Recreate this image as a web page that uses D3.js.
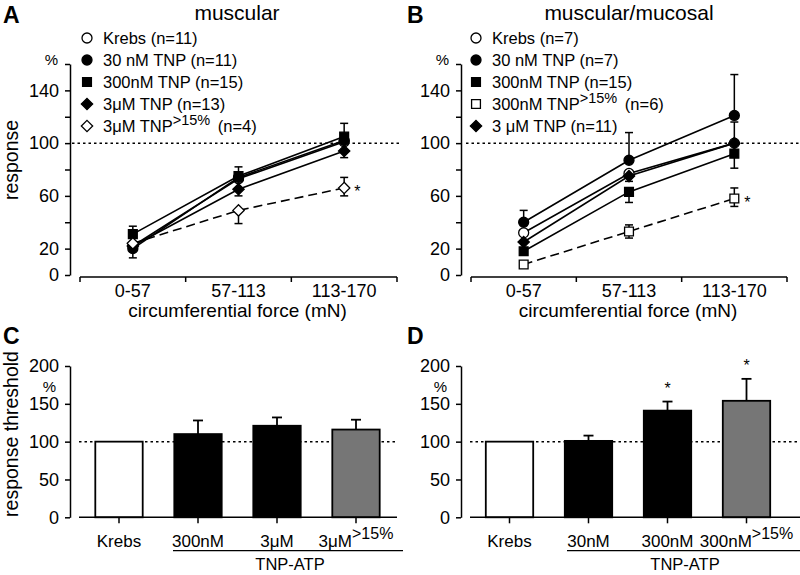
<!DOCTYPE html>
<html><head><meta charset="utf-8">
<script src="https://cdn.jsdelivr.net/npm/d3@7"></script>
<style>
body{margin:0;background:#fff}
svg{display:block}
text{font-family:"Liberation Sans",Arial,Helvetica,sans-serif;fill:#000}
</style>
</head><body>
<svg id="chart" width="800" height="575"></svg>
<script>
// ---------- DATA ----------
const forceCats = ["0-57", "57-113", "113-170"];
const yTicksLine = [0, 20, 40, 60, 80, 100, 120, 140, 160];
const yTickLabelsLine = [0, 20, 60, 100, 140];

// Panel A (muscular)
const aLegend = ["Krebs (n=11)", "30 nM TNP (n=11)", "300nM TNP (n=15)", "3\u03bcM TNP (n=13)", "3\u03bcM TNP"];
const aLegendSup = ["", "", "", "", ">15%"];
const aLegendTail = ["", "", "", "", "(n=4)"];
const aSymbols = ["circle", "circle", "square", "diamond", "diamond"];
const aFilled = [false, true, true, true, false];
const aDashed = [false, false, false, false, true];
const aValues = [[22, 73, 101], [20, 74, 102], [31, 75, 105], [22, 65, 94], [24, 49, 66]];
const aErrUp = [[null, null, null], [null, null, null], [37, 82, 115], [null, null, null], [null, null, 74]];
const aErrDown = [[null, null, null], [13, null, null], [null, null, null], [null, 60, 89], [null, 39, 60]];
const aSig = [false, false, false, false, true];

// Panel B (muscular/mucosal)
const bLegend = ["Krebs (n=7)", "30 nM TNP (n=7)", "300nM TNP (n=15)", "300nM TNP", "3 \u03bcM TNP (n=11)"];
const bLegendSup = ["", "", "", ">15%", ""];
const bLegendTail = ["", "", "", "(n=6)", ""];
const bSymbols = ["circle", "circle", "square", "square", "diamond"];
const bFilled = [false, true, true, false, true];
const bDashed = [false, false, false, true, false];
const bValues = [[32, 77, 100], [40, 87, 121], [18, 63, 92], [8, 33, 58], [25, 75, 100]];
const bErrUp = [[null, null, null], [49, 108, 152], [null, null, null], [null, 38, 66], [null, null, 116]];
const bErrDown = [[null, null, null], [null, null, null], [null, 55, 81], [null, 28, 52], [null, 71, null]];
const bSig = [false, false, false, true, false];

// Panel C (bars)
const barTicks = [0, 50, 100, 150, 200];
const cCats = ["Krebs", "300nM", "3\u03bcM", "3\u03bcM"];
const cSup = ["", "", "", ">15%"];
const cValues = [100, 110, 121, 116];
const cErrTop = [null, 128, 132, 129];
const cFill = ["white", "black", "black", "gray"];
const cSig = [false, false, false, false];

// Panel D (bars)
const dCats = ["Krebs", "30nM", "300nM", "300nM"];
const dSup = ["", "", "", ">15%"];
const dValues = [100, 101, 141, 154];
const dErrTop = [null, 108, 153, 183];
const dFill = ["white", "black", "black", "gray"];
const dSig = [false, false, true, true];

// ---------- DRAW ----------
const svg = d3.select("#chart");
const colors = {white: "#ffffff", black: "#000000", gray: "#767676"};

function markerPath(type) {
  if (type === "circle") return d3.symbol(d3.symbolCircle, Math.PI * 25)();
  if (type === "square") return d3.symbol(d3.symbolSquare, 78)();
  const diamond = {draw(ctx, size) { const r = Math.sqrt(size / 2); ctx.moveTo(0, -r); ctx.lineTo(r, 0); ctx.lineTo(0, r); ctx.lineTo(-r, 0); ctx.closePath(); }};
  return d3.symbol(diamond, 64)();
}

function addText(g, x, y, base, sup, tail, opts) {
  const t = g.append("text").attr("x", x).attr("y", y)
    .attr("font-size", opts.size).attr("text-anchor", opts.anchor || "start");
  t.append("tspan").text(base);
  if (sup) {
    t.append("tspan").attr("dy", -opts.supShift).attr("font-size", opts.supSize).text(sup);
    if (tail) t.append("tspan").attr("dy", opts.supShift).attr("dx", 3).attr("font-size", opts.size).text(" " + tail);
  } else if (tail) {
    t.append("tspan").text(" " + tail);
  }
  return t;
}

function linePanel(cfg) {
  const g = svg.append("g");
  const y = d3.scaleLinear().domain([0, 160]).range([275, 64]);
  const x = d3.scaleBand().domain(forceCats).range([cfg.x0, cfg.x1]);
  const cx = c => x(c) + x.bandwidth() / 2;

  // y axis
  const ya = g.append("g").attr("transform", `translate(${cfg.yAxisX},0)`)
    .call(d3.axisLeft(y).tickValues(yTicksLine).tickSize(5).tickSizeOuter(0).tickPadding(6)
      .tickFormat(d => yTickLabelsLine.includes(d) ? d : ""));
  ya.selectAll("text").attr("font-size", 18).attr("font-family", "Liberation Sans, Arial, sans-serif");
  ya.selectAll("path,line").attr("stroke", "#000").attr("stroke-width", 1.5);
  g.append("text").attr("x", cfg.yAxisX - 12).attr("y", 65).attr("text-anchor", "end").attr("font-size", 15).text("%");

  // x axis (offset, ticks at category boundaries)
  const axY = y(0) + 2;
  g.append("line").attr("x1", cfg.x0).attr("x2", cfg.x1).attr("y1", axY).attr("y2", axY)
    .attr("stroke", "#000").attr("stroke-width", 1.5);
  const bounds = forceCats.map(c => x(c)).concat([cfg.x1]);
  g.selectAll(".bt").data(bounds).join("line").attr("x1", d => d).attr("x2", d => d)
    .attr("y1", axY).attr("y2", axY + 5).attr("stroke", "#000").attr("stroke-width", 1.5);
  g.selectAll(".xl").data(forceCats).join("text").attr("x", d => cx(d)).attr("y", 297)
    .attr("text-anchor", "middle").attr("font-size", 18).text(d => d);
  g.append("text").attr("x", (cfg.x0 + cfg.x1) / 2 - 1).attr("y", 317).attr("text-anchor", "middle")
    .attr("font-size", 19).text("circumferential force (mN)");

  // reference line at 100
  g.append("line").attr("x1", cfg.refX0).attr("x2", cfg.refX1).attr("y1", y(100)).attr("y2", y(100))
    .attr("stroke", "#000").attr("stroke-width", 1.5).attr("stroke-dasharray", "2.5,3");

  // lines
  const line = d3.line().x((d, i) => cx(forceCats[i])).y(d => y(d));
  cfg.values.forEach((vals, s) => {
    g.append("path").attr("d", line(vals)).attr("fill", "none").attr("stroke", "#000")
      .attr("stroke-width", 1.6).attr("stroke-dasharray", cfg.dashed[s] ? "9,5" : null);
  });
  // error bars
  cfg.values.forEach((vals, s) => {
    vals.forEach((v, i) => {
      [cfg.errUp[s][i], cfg.errDown[s][i]].forEach(e => {
        if (e == null) return;
        const px = cx(forceCats[i]);
        g.append("line").attr("x1", px).attr("x2", px).attr("y1", y(v)).attr("y2", y(e))
          .attr("stroke", "#000").attr("stroke-width", 1.5);
        g.append("line").attr("x1", px - 4).attr("x2", px + 4).attr("y1", y(e)).attr("y2", y(e))
          .attr("stroke", "#000").attr("stroke-width", 1.5);
      });
    });
  });
  // markers
  cfg.values.forEach((vals, s) => {
    vals.forEach((v, i) => {
      g.append("path").attr("d", markerPath(cfg.symbols[s]))
        .attr("transform", `translate(${cx(forceCats[i])},${y(v)})`)
        .attr("fill", cfg.filled[s] ? "#000" : "#fff").attr("stroke", "#000").attr("stroke-width", 1.3);
    });
    if (cfg.sig[s]) {
      g.append("text").attr("x", cx(forceCats[2]) + 10).attr("y", y(vals[2]) + 9)
        .attr("font-size", 16).text("*");
    }
  });

  // legend
  const rows = [38, 60, 82, 104, 126];
  cfg.legend.forEach((lab, s) => {
    g.append("path").attr("d", markerPath(cfg.symbols[s]))
      .attr("transform", `translate(${cfg.legX},${rows[s]})`)
      .attr("fill", cfg.filled[s] ? "#000" : "#fff").attr("stroke", "#000").attr("stroke-width", 1.3);
    addText(g, cfg.legX + 16, rows[s] + 6, lab, cfg.legendSup[s], cfg.legendTail[s],
      {size: 16.5, supSize: 14.5, supShift: 7});
  });

  // title & letter
  g.append("text").attr("x", cfg.titleX).attr("y", 20).attr("text-anchor", "middle").attr("font-size", 21).text(cfg.title);
  g.append("text").attr("x", cfg.letterX).attr("y", 23).attr("font-size", 23).attr("font-weight", "bold").text(cfg.letter);
  if (cfg.yLabel) {
    g.append("text").attr("transform", "translate(18,160) rotate(-90)").attr("text-anchor", "middle")
      .attr("font-size", 19.5).text(cfg.yLabel);
  }
}

function barPanel(cfg) {
  const g = svg.append("g");
  const y = d3.scaleLinear().domain([0, 200]).range([517.3, 366]);
  const x = d3.scaleBand().domain(d3.range(cfg.cats.length)).range([cfg.x0, cfg.x1]).paddingInner(0.4).paddingOuter(0.2);
  const cx = i => x(i) + x.bandwidth() / 2;

  const ya = g.append("g").attr("transform", `translate(${cfg.yAxisX},0)`)
    .call(d3.axisLeft(y).tickValues(barTicks).tickSize(5).tickSizeOuter(0).tickPadding(6));
  ya.selectAll("text").attr("font-size", 18).attr("font-family", "Liberation Sans, Arial, sans-serif");
  ya.selectAll("path,line").attr("stroke", "#000").attr("stroke-width", 1.5);
  g.append("text").attr("x", cfg.yAxisX - 14).attr("y", 392).attr("text-anchor", "end").attr("font-size", 15).text("%");

  // ref line (behind bars)
  g.append("line").attr("x1", cfg.axX0).attr("x2", cfg.axX1).attr("y1", y(100)).attr("y2", y(100))
    .attr("stroke", "#000").attr("stroke-width", 1.5).attr("stroke-dasharray", "2.5,3");

  // bars
  cfg.values.forEach((v, i) => {
    g.append("rect").attr("x", x(i)).attr("width", x.bandwidth()).attr("y", y(v)).attr("height", y(0) - y(v))
      .attr("fill", colors[cfg.fill[i]]).attr("stroke", "#000").attr("stroke-width", 1.8);
    const e = cfg.errTop[i];
    if (e != null) {
      g.append("line").attr("x1", cx(i)).attr("x2", cx(i)).attr("y1", y(v)).attr("y2", y(e)).attr("stroke", "#000").attr("stroke-width", 1.8);
      g.append("line").attr("x1", cx(i) - 5).attr("x2", cx(i) + 5).attr("y1", y(e)).attr("y2", y(e)).attr("stroke", "#000").attr("stroke-width", 1.8);
    }
    if (cfg.sig[i]) {
      g.append("text").attr("x", cx(i)).attr("y", y(e) - 8).attr("text-anchor", "middle").attr("font-size", 16).text("*");
    }
  });

  // x axis
  const axY = y(0);
  g.append("line").attr("x1", cfg.axX0).attr("x2", cfg.axX1).attr("y1", axY).attr("y2", axY).attr("stroke", "#000").attr("stroke-width", 1.5);
  cfg.cats.forEach((c, i) => {
    g.append("line").attr("x1", cx(i)).attr("x2", cx(i)).attr("y1", axY).attr("y2", axY + 6).attr("stroke", "#000").attr("stroke-width", 1.5);
    addText(g, cx(i), 547, c, cfg.sup[i], "", {size: 17, supSize: 16, supShift: 8, anchor: "middle"});
  });
  g.append("line").attr("x1", cfg.brX0).attr("x2", cfg.brX1).attr("y1", 550.7).attr("y2", 550.7).attr("stroke", "#000").attr("stroke-width", 1.3);
  g.append("text").attr("x", cfg.tnpX).attr("y", 570).attr("text-anchor", "middle").attr("font-size", 16.5).text("TNP-ATP");

  g.append("text").attr("x", cfg.letterX).attr("y", 344).attr("font-size", 23).attr("font-weight", "bold").text(cfg.letter);
  if (cfg.yLabel) {
    g.append("text").attr("transform", "translate(18,434) rotate(-90)").attr("text-anchor", "middle")
      .attr("font-size", 19.5).text(cfg.yLabel);
  }
}

linePanel({x0: 80, x1: 397, yAxisX: 70, refX0: 72, refX1: 400, values: aValues, errUp: aErrUp, errDown: aErrDown,
  symbols: aSymbols, filled: aFilled, dashed: aDashed, sig: aSig, legend: aLegend, legendSup: aLegendSup,
  legendTail: aLegendTail, legX: 87, title: "muscular", titleX: 237, letter: "A", letterX: 3, yLabel: "response"});
linePanel({x0: 471, x1: 787, yAxisX: 461, refX0: 466, refX1: 800, values: bValues, errUp: bErrUp, errDown: bErrDown,
  symbols: bSymbols, filled: bFilled, dashed: bDashed, sig: bSig, legend: bLegend, legendSup: bLegendSup,
  legendTail: bLegendTail, legX: 476, title: "muscular/mucosal", titleX: 629, letter: "B", letterX: 407, yLabel: null});

barPanel({cats: cCats, sup: cSup, values: cValues, errTop: cErrTop, fill: cFill, sig: cSig,
  x0: 79.5, x1: 395.5, yAxisX: 70, axX0: 79, axX1: 397, brX0: 173, brX1: 403, tnpX: 290,
  letter: "C", letterX: 3, yLabel: "response threshold"});
barPanel({cats: dCats, sup: dSup, values: dValues, errTop: dErrTop, fill: dFill, sig: dSig,
  x0: 470, x1: 786, yAxisX: 461, axX0: 470, axX1: 800, brX0: 567, brX1: 800, tnpX: 685,
  letter: "D", letterX: 407, yLabel: null});
</script>
</body></html>
